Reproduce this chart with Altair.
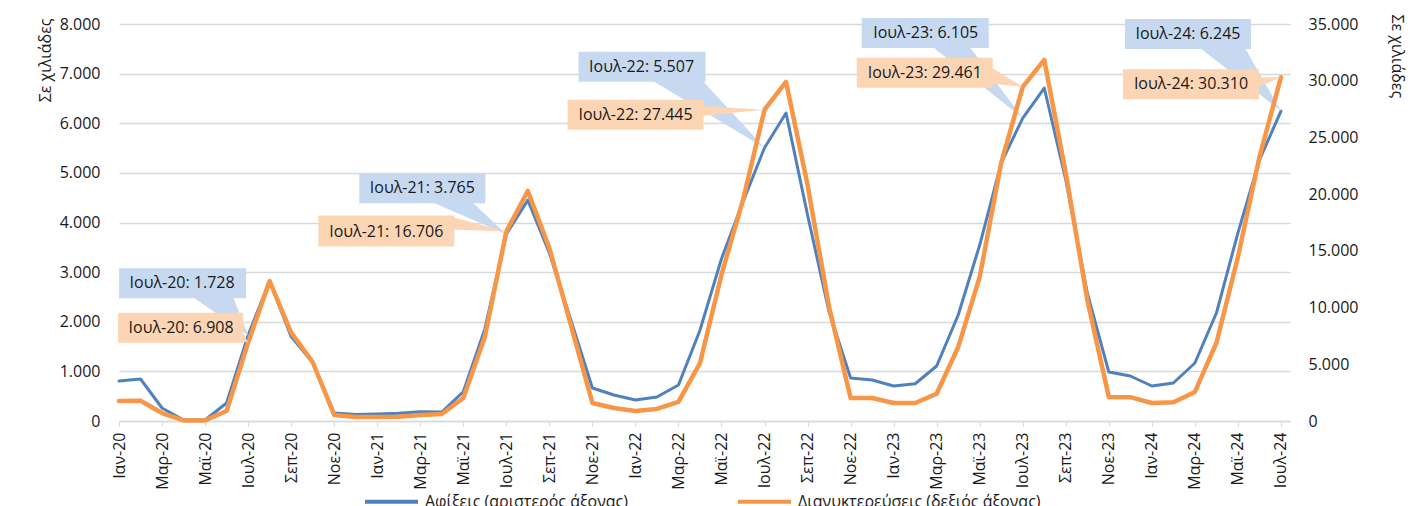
import json
import altair as alt
import pandas as pd

# ---------------- data ----------------
months = [
    "Ιαν-20", "Φεβ-20", "Μαρ-20", "Απρ-20", "Μαϊ-20", "Ιουν-20", "Ιουλ-20", "Αυγ-20", "Σεπ-20", "Οκτ-20", "Νοε-20", "Δεκ-20",
    "Ιαν-21", "Φεβ-21", "Μαρ-21", "Απρ-21", "Μαϊ-21", "Ιουν-21", "Ιουλ-21", "Αυγ-21", "Σεπ-21", "Οκτ-21", "Νοε-21", "Δεκ-21",
    "Ιαν-22", "Φεβ-22", "Μαρ-22", "Απρ-22", "Μαϊ-22", "Ιουν-22", "Ιουλ-22", "Αυγ-22", "Σεπ-22", "Οκτ-22", "Νοε-22", "Δεκ-22",
    "Ιαν-23", "Φεβ-23", "Μαρ-23", "Απρ-23", "Μαϊ-23", "Ιουν-23", "Ιουλ-23", "Αυγ-23", "Σεπ-23", "Οκτ-23", "Νοε-23", "Δεκ-23",
    "Ιαν-24", "Φεβ-24", "Μαρ-24", "Απρ-24", "Μαϊ-24", "Ιουν-24", "Ιουλ-24",
]

arrivals = [
    806, 846, 262, 20, 20, 363, 1728, 2821, 1700, 1180, 160, 130,
    140, 155, 185, 180, 590, 1850, 3765, 4450, 3385, 2035, 665, 524,
    423, 484, 725, 1830, 3270, 4420, 5507, 6206, 4150, 2200, 866, 826,
    705, 750, 1108, 2136, 3546, 5200, 6105, 6710, 4856, 2580, 987, 907,
    705, 766, 1169, 2176, 3790, 5260, 6245,
]

overnights = [
    1760, 1780, 700, 50, 50, 880, 6908, 12340, 7800, 5200, 530, 360,
    350, 380, 530, 620, 2030, 7400, 16706, 20280, 15250, 8460, 1590, 1150,
    880, 1060, 1680, 5110, 12900, 19500, 27445, 29890, 20800, 10050, 2030, 2030,
    1590, 1590, 2400, 6520, 12700, 22750, 29461, 31830, 21860, 10670, 2120, 2100,
    1590, 1650, 2560, 6880, 14460, 23270, 30310,
]

series_names = ["Αφίξεις (αριστερός άξονας)", "Διανυκτερεύσεις (δεξιός άξονας)"]
axis_title = "Σε χιλιάδες"
labelled_months = [6, 18, 30, 42, 54]

# ---------------- styling / layout ----------------
BLUE = "#4f81bd"
ORANGE = "#f79646"
BLUE_BOX = "#c6d9f1"
ORANGE_BOX = "#fcd5b5"
GRID = "#d9d9d9"
TXT = "#1a1a1a"
FONT = "Open Sans"
FS = 16

# callout geometry in pixels relative to the data point:
# box (x1, x2, y1, y2), wedge base points, text centre
blue_callouts = [
    ((-129, -2, -67, -37), ((-55, -37), (-15, -37)), (-66, -52)),
    ((-147, -21, -61, -31), ((-74, -31), (-34, -31)), (-84, -46)),
    ((-186, -59, -96, -66), ((-112, -66), (-62, -66)), (-123, -81)),
    ((-161, -34, -100, -70), ((-90, -70), (-53, -70)), (-97, -85)),
    ((-156, -30, -92, -62), ((-81, -62), (-36, -62)), (-93, -77)),
]
orange_callouts = [
    ((-130, -5, -30, 0), ((-5, -12), (-5, -2)), (-67, -15)),
    ((-188, -52, -16, 15), ((-52, -14), (-52, -2)), (-120, 0)),
    ((-197, -61, -10, 20), ((-61, -4), (-61, 6)), (-129, 5)),
    ((-166, -30, -29, 1), ((-30, -19), (-30, -3)), (-98, -14)),
    ((-158, -22, -8, 22), ((-22, 0), (-22, 10)), (-90, 7)),
]


def fmt(v):
    return f"{v:,}".replace(",", ".")


def callout_path(box, base):
    x1, x2, y1, y2 = box
    rect = f"M{x1},{y1}L{x2},{y1}L{x2},{y2}L{x1},{y2}Z"
    (ax, ay), (bx, by) = base
    # push base 1px into the box to avoid seams
    if ay == y2:
        ay -= 1; by -= 1
    elif ax == x2:
        ax -= 1; bx -= 1
    pts = [(ax, ay), (0, 0), (bx, by)]
    area = sum(pts[k][0] * pts[(k + 1) % 3][1] - pts[(k + 1) % 3][0] * pts[k][1] for k in range(3))
    if area < 0:  # rect is positive (clockwise on screen) -> match it
        pts = [pts[2], pts[1], pts[0]]
    tri = "M{},{}L{},{}L{},{}Z".format(*pts[0], *pts[1], *pts[2])
    return rect + tri


x_scale = alt.Scale(domain=[0, 54.42], nice=False, zero=False)
label_lookup = json.dumps(months, ensure_ascii=False)
num_expr = "replace(format(datum.value, ','), ',', '.')"

x_axis = alt.Axis(
    values=list(range(0, 55, 2)),
    labelExpr=label_lookup + "[datum.value]",
    title=None,
    labelAngle=270,
    labelAlign="right",
    labelBaseline="middle",
    labelPadding=6,
    labelOverlap=False,
    labelFlush=False,
    labelBound=False,
    tickSize=5,
    tickColor=GRID,
    domainColor=GRID,
    domainWidth=1.5,
    grid=False,
)

left_axis = alt.Axis(
    values=list(range(0, 8001, 1000)),
    labelExpr=num_expr,
    title=axis_title,
    titleAngle=270,
    titleAlign="right",
    titleBaseline="middle",
    titleX=-74,
    titleY=-6,
    grid=True,
    gridColor=GRID,
    gridWidth=1.5,
    domain=False,
    ticks=False,
    labelPadding=19,
)

right_axis = alt.Axis(
    orient="right",
    values=list(range(0, 35001, 5000)),
    labelExpr=num_expr,
    title=axis_title,
    titleAngle=90,
    titleAlign="left",
    titleBaseline="middle",
    titleX=106,
    titleY=-10,
    grid=False,
    domain=False,
    ticks=False,
    labelPadding=18,
)

color_scale = alt.Scale(domain=series_names, range=[BLUE, ORANGE])
legend = alt.Legend(
    orient="none",
    legendX=244,
    legendY=449,
    direction="horizontal",
    title=None,
    symbolType="stroke",
    symbolSize=2809,
    symbolStrokeWidth=4,
    labelFontSize=FS,
    labelFont=FONT,
    labelColor=TXT,
    labelOffset=5,
    labelLimit=0,
    columnPadding=101,
)

df_a = pd.DataFrame({"i": range(len(months)), "v": arrivals, "s": series_names[0]})
df_o = pd.DataFrame({"i": range(len(months)), "v": overnights, "s": series_names[1]})

y_left = alt.Scale(domain=[0, 8000], nice=False)
y_right = alt.Scale(domain=[0, 35000], nice=False)

blue_line = alt.Chart(df_a).mark_line(strokeWidth=3, strokeJoin="round", strokeCap="round").encode(
    x=alt.X("i:Q", scale=x_scale, axis=x_axis),
    y=alt.Y("v:Q", scale=y_left, axis=left_axis),
    color=alt.Color("s:N", scale=color_scale, legend=legend),
)
orange_line = alt.Chart(df_o).mark_line(strokeWidth=4.5, strokeJoin="round", strokeCap="round").encode(
    x=alt.X("i:Q", scale=x_scale),
    y=alt.Y("v:Q", scale=y_right, axis=right_axis),
    color=alt.Color("s:N", scale=color_scale, legend=legend),
)


def callout_layers(values, geoms, box_color, y_scale):
    layers = []
    for idx, (box, base, (tx, ty)) in zip(labelled_months, geoms):
        d = pd.DataFrame({"i": [idx], "v": [values[idx]],
                          "t": [f"{months[idx]}: {fmt(values[idx])}"]})
        base_enc = dict(x=alt.X("i:Q", scale=x_scale), y=alt.Y("v:Q", scale=y_scale))
        layers.append(
            alt.Chart(d).mark_point(shape=callout_path(box, base), size=4, filled=True,
                                    color=box_color, opacity=1, strokeWidth=0).encode(**base_enc)
        )
        layers.append(
            alt.Chart(d).mark_text(dx=tx, dy=ty, align="center", baseline="middle",
                                   font=FONT, fontSize=FS, color=TXT).encode(text="t:N", **base_enc)
        )
    return layers


blue_layer = alt.layer(blue_line, *callout_layers(arrivals, blue_callouts, BLUE_BOX, y_left))
orange_layer = alt.layer(orange_line, *callout_layers(overnights, orange_callouts, ORANGE_BOX, y_right))

chart = (
    alt.layer(blue_layer, orange_layer)
    .resolve_scale(y="independent")
    .properties(
        width=1171,
        height=397,
        padding={"left": 111, "top": 16, "right": 120, "bottom": 100},
        autosize=alt.AutoSizeParams(type="none"),
    )
    .configure_view(stroke=None)
    .configure_axis(
        labelFont=FONT, labelFontSize=FS, labelColor=TXT,
        titleFont=FONT, titleFontSize=FS, titleColor=TXT, titleFontWeight="normal",
    )
)

chart.save("out.html", embed_options={"renderer": "svg", "actions": False})
